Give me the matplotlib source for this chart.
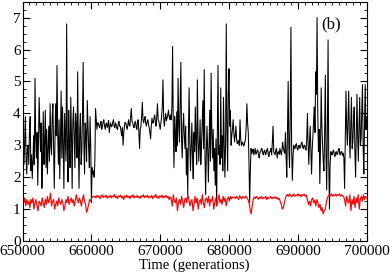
import matplotlib
matplotlib.use('Agg')
import matplotlib.pyplot as plt
import numpy as np
from matplotlib.ticker import MultipleLocator

# black series, read segment by segment (values spread evenly in each span)
black_bounds = [650000, 661000, 671600, 681200, 683400, 688200,
                689400, 691400, 694800, 696800, 700000]
black_b1 = [3.3, 2.8, 2.4, 3.2, 3.9, 2.6, 2.1, 2.9, 3.0, 2.4,
            3.5, 3.9, 2.2, 2.7, 1.95, 2.5, 3.3, 2.4, 5.1, 3.2,
            2.6, 3.4, 1.75, 3.0, 4.5, 3.6, 2.8, 3.7, 1.65, 2.6,
            4.05, 2.4, 3.1, 4.1, 2.3, 3.5, 2.1, 2.9, 3.6, 2.5,
            4.3, 3.0, 2.7, 3.9, 4.3, 2.9, 1.65, 3.1, 4.3, 3.3,
            5.5, 3.4, 2.4, 3.8, 1.95, 3.2, 4.7, 2.6, 4.2, 3.0,
            1.65, 4.0, 3.2, 2.5, 6.8, 2.9, 1.85, 4.1, 3.0, 2.3,
            4.5, 3.3, 1.65, 3.7, 4.2, 3.2, 2.3, 4.0, 3.6, 2.6,
            5.3, 3.0, 1.65, 3.5, 4.0, 2.4, 2.8, 3.9, 5.6, 3.1,
            2.1, 3.7, 3.4, 2.5, 4.4, 3.6, 2.9, 2.3, 3.9, 3.0,
            1.2, 2.3, 2.1, 2.2, 2.0, 2.5, 4.15, 3.8, 3.5, 3.7]
black_b2 = [3.7, 3.6, 3.55, 3.68, 3.75, 3.5, 3.6, 3.72, 3.8, 3.62,
            3.5, 3.66, 3.7, 3.55, 3.65, 3.78, 3.4, 3.6, 3.7, 3.58,
            3.6, 3.72, 3.8, 3.6, 3.55, 3.7, 3.65, 3.52, 3.5, 3.68,
            3.75, 3.6, 3.6, 3.45, 3.3, 3.55, 3.0, 3.4, 3.6, 3.72,
            3.7, 3.58, 3.5, 3.66, 3.8, 3.62, 3.6, 3.9, 4.15, 3.75,
            3.7, 3.6, 3.55, 3.7, 3.75, 3.58, 3.5, 3.72, 3.8, 3.4,
            2.9, 3.5, 3.6, 3.9, 4.35, 3.8, 3.7, 3.82, 3.9, 3.68,
            3.6, 3.74, 3.8, 3.66, 3.55, 3.4, 3.2, 3.6, 3.85, 3.7,
            3.7, 3.86, 3.95, 3.72, 3.6, 3.9, 4.3, 3.8, 3.75, 3.62,
            3.5, 3.7, 3.9, 4.2, 5.05, 3.9, 3.6, 3.82, 4.0, 3.78,
            3.85, 3.95, 4.1, 3.9, 3.8, 3.95]
black_b3 = [3.8, 4.2, 6.1, 3.5, 2.3, 3.9, 3.4, 2.8, 4.05, 3.0,
            5.1, 3.6, 3.1, 4.3, 5.6, 3.2, 2.6, 3.5, 4.0, 3.3,
            2.9, 3.6, 2.07, 2.9, 1.45, 3.3, 4.8, 3.1, 2.2, 2.9,
            3.7, 2.6, 1.95, 3.4, 2.8, 4.2, 3.1, 2.4, 5.05, 3.3,
            2.5, 3.0, 3.8, 2.4, 3.0, 3.7, 4.4, 2.9, 5.37, 2.8,
            1.45, 2.7, 3.6, 2.9, 1.85, 3.0, 4.1, 2.5, 5.26, 3.4,
            2.6, 3.5, 2.2, 2.9, 1.75, 3.2, 1.1, 3.4, 5.5, 2.7,
            3.0, 2.4, 4.8, 2.6, 3.3, 2.2, 4.5, 3.1, 2.0, 3.0,
            6.8, 3.5, 2.2, 4.6, 5.4, 3.6, 4.1, 3.0, 3.3, 3.5,
            3.8, 3.4, 3.1, 3.3, 3.6, 3.2]
black_b4 = [3.05, 3.12, 3.15, 3.0, 3.8, 3.2, 3.0, 3.08, 3.1, 2.98,
            3.0, 3.1, 3.2, 3.6, 4.3, 3.7, 3.4, 2.5, 1.2, 2.2,
            2.9, 2.75]
black_b5 = [2.8, 2.88, 2.7, 2.8, 2.9, 2.72, 2.75, 2.85, 2.85, 2.68,
            2.6, 2.78, 2.8, 2.9, 2.9, 2.74, 2.7, 2.82, 2.85, 2.7,
            2.75, 2.86, 2.9, 2.72, 2.65, 2.8, 2.8, 2.9, 2.7, 3.1,
            3.6, 2.8, 2.75, 2.7, 2.85, 2.9, 2.6, 2.78, 2.8, 2.72,
            2.9, 2.8, 2.7, 2.86, 3.1, 2.9, 2.8, 2.75]
black_b6 = [3.4, 2.6, 2.0, 3.5, 5.0, 2.9, 2.3, 4.0, 6.7, 3.0, 1.9, 2.6]
black_b7 = [3.0, 2.92, 2.9, 3.02, 3.05, 2.9, 2.85, 2.98, 3.0, 2.9,
            2.95, 3.05, 3.1, 2.94, 2.9, 3.0, 3.0, 2.88, 2.85, 3.2]
black_b8 = [4.0, 3.0, 2.4, 3.1, 3.6, 2.8, 2.1, 2.9, 3.3, 3.8,
            4.2, 3.4, 5.3, 4.6, 7.0, 4.0, 2.8, 3.5, 1.8, 2.9,
            4.8, 3.6, 3.0, 2.5, 2.2, 3.4, 5.2, 2.7, 1.6, 3.5,
            6.3, 2.4, 1.0, 2.4]
black_b9 = [2.8, 2.72, 2.7, 2.82, 2.85, 2.7, 2.65, 2.78, 2.8, 2.7,
            2.75, 2.85, 2.9, 2.72, 2.7, 2.8, 2.8, 2.68, 2.75, 2.6]
black_b10 = [1.65, 3.2, 4.7, 3.6, 3.0, 3.9, 4.7, 3.2, 2.6, 3.7,
             4.5, 2.9, 3.1, 3.8, 4.2, 2.8, 2.0, 3.4, 4.6, 3.3,
             2.5, 3.6, 4.5, 3.0, 3.2, 4.1, 4.9, 2.9, 2.1, 3.7,
             4.9, 3.5, 3.9]

# red series
red_bounds = [650000, 660500, 671600, 680800, 688200, 691400, 694600, 696800, 700000]
red_r1 = [1.45, 1.2, 1.35, 1.1, 1.3, 1.15, 1.25, 1.05, 1.3, 1.2,
          1.35, 1.0, 1.2, 1.3, 1.1, 0.95, 1.25, 1.2, 1.1, 1.35,
          1.2, 1.05, 1.3, 1.15, 1.4, 1.2, 1.3, 1.5, 1.1, 1.25,
          1.3, 1.0, 1.15, 1.25, 1.1, 1.35, 1.2, 1.15, 1.3, 1.2,
          0.95, 1.1, 1.3, 1.2, 1.4, 1.15, 1.25, 1.35, 1.2, 1.3,
          1.1, 1.25, 1.45, 1.3, 1.2, 1.35, 1.25, 1.1, 1.3, 1.45,
          1.25, 1.15, 0.9, 1.0, 1.15, 1.3, 1.25, 1.35, 1.4, 1.38]
red_r2 = [1.4, 1.35, 1.43, 1.37, 1.42, 1.33, 1.4, 1.45, 1.36, 1.41,
          1.38, 1.44, 1.34, 1.4, 1.37, 1.43, 1.35, 1.41, 1.38, 1.46,
          1.36, 1.4, 1.33, 1.42, 1.38, 1.44, 1.35, 1.4, 1.3, 1.42,
          1.37, 1.44, 1.36, 1.41, 1.33, 1.42, 1.38, 1.45, 1.35, 1.4,
          1.37, 1.43, 1.36, 1.4, 1.34, 1.42, 1.39, 1.45, 1.36, 1.41,
          1.38, 1.44, 1.35, 1.4, 1.37, 1.43, 1.33, 1.41, 1.38, 1.46,
          1.36, 1.4, 1.34, 1.42, 1.38, 1.44, 1.35, 1.41, 1.37, 1.43,
          1.36, 1.4, 1.3, 1.38]
red_r3 = [1.3, 1.1, 1.45, 1.25, 1.2, 1.35, 0.95, 1.2, 1.3, 1.15,
          1.4, 1.25, 1.05, 1.3, 1.35, 1.2, 1.45, 1.3, 1.1, 1.25,
          1.3, 0.95, 1.15, 1.4, 1.2, 1.35, 1.0, 1.25, 1.3, 1.15,
          1.45, 1.2, 1.05, 1.3, 1.35, 1.2, 1.4, 1.1, 1.3, 1.25,
          1.4, 1.0, 1.2, 1.35, 1.1, 1.3, 1.45, 1.2, 1.3, 1.15,
          1.4, 1.25, 1.35, 1.1, 1.3, 1.38, 1.25, 1.4, 1.32, 1.38,
          1.35]
red_r4 = [1.38, 1.33, 1.4, 1.35, 1.3, 1.42, 1.36, 1.32, 1.4, 1.37,
          1.34, 1.41, 1.36, 1.3, 1.2, 1.0, 0.85, 1.1, 1.3, 1.38,
          1.33, 1.4, 1.35, 1.31, 1.38, 1.34, 1.4, 1.32, 1.37, 1.35,
          1.4, 1.3, 1.38, 1.33, 1.36, 1.4, 1.32, 1.37, 1.34, 1.39,
          1.33, 1.37, 1.3, 1.34, 1.25, 1.15, 1.0, 1.05, 1.2]
red_r5 = [1.35, 1.42, 1.46, 1.4, 1.48, 1.43, 1.38, 1.45, 1.47, 1.4,
          1.44, 1.42, 1.48, 1.41, 1.45, 1.39, 1.46, 1.43, 1.47, 1.4, 1.44]
red_r6 = [1.3, 1.15, 1.25, 1.1, 1.3, 1.35, 1.2, 1.28, 1.1, 1.3,
          1.2, 1.05, 1.15, 0.95, 1.05, 0.85, 0.95, 1.0, 1.2, 1.35, 1.42]
red_r7 = [1.45, 1.42, 1.48, 1.4, 1.45, 1.43, 1.47, 1.41, 1.46, 1.44,
          1.48, 1.4, 1.45, 1.42, 1.4]
red_r8 = [1.3, 1.1, 1.4, 1.25, 1.2, 1.45, 0.95, 1.3, 1.15, 1.4,
          1.05, 1.35, 1.2, 1.45, 1.0, 1.3, 1.4, 1.25, 1.45, 1.3, 1.4, 1.35]


def join_segments(bounds, segments):
    ts, vs = [], []
    for k, seg in enumerate(segments):
        last = k == len(segments) - 1
        ts.append(np.linspace(bounds[k], bounds[k + 1], len(seg), endpoint=last))
        vs.append(np.array(seg))
    return np.concatenate(ts), np.concatenate(vs)


black_t, black_v = join_segments(black_bounds, [black_b1, black_b2, black_b3, black_b4, black_b5,
                                                black_b6, black_b7, black_b8, black_b9, black_b10])
red_t, red_v = join_segments(red_bounds, [red_r1, red_r2, red_r3, red_r4,
                                          red_r5, red_r6, red_r7, red_r8])

plt.rcParams['font.family'] = ['Liberation Serif', 'DejaVu Serif']

fig = plt.figure(figsize=(3.9, 2.73), dpi=100)
ax = fig.add_axes([0.058, 0.117, 0.882, 0.877])

ax.plot(black_t, black_v, color='black', lw=0.75)
ax.plot(red_t, red_v, color='red', lw=0.85)

ax.set_xlim(650000, 700000)
ax.set_ylim(0, 7.5)
ax.xaxis.set_major_locator(MultipleLocator(10000))
ax.xaxis.set_minor_locator(MultipleLocator(1000))
ax.yaxis.set_major_locator(MultipleLocator(1))
ax.yaxis.set_minor_locator(MultipleLocator(0.25))
ax.tick_params(which='both', direction='in', top=True, right=True, labelsize=11)
ax.tick_params(axis='x', pad=3)
ax.tick_params(axis='y', pad=1.5)
ax.tick_params(which='major', length=5)
ax.tick_params(which='minor', length=2.5)

ax.set_xlabel('Time (generations)', fontsize=10.5, labelpad=0)
ax.text(0.896, 0.903, '(b)', transform=ax.transAxes, fontsize=12, ha='center', va='center')

fig.savefig('out.png', dpi=100)
